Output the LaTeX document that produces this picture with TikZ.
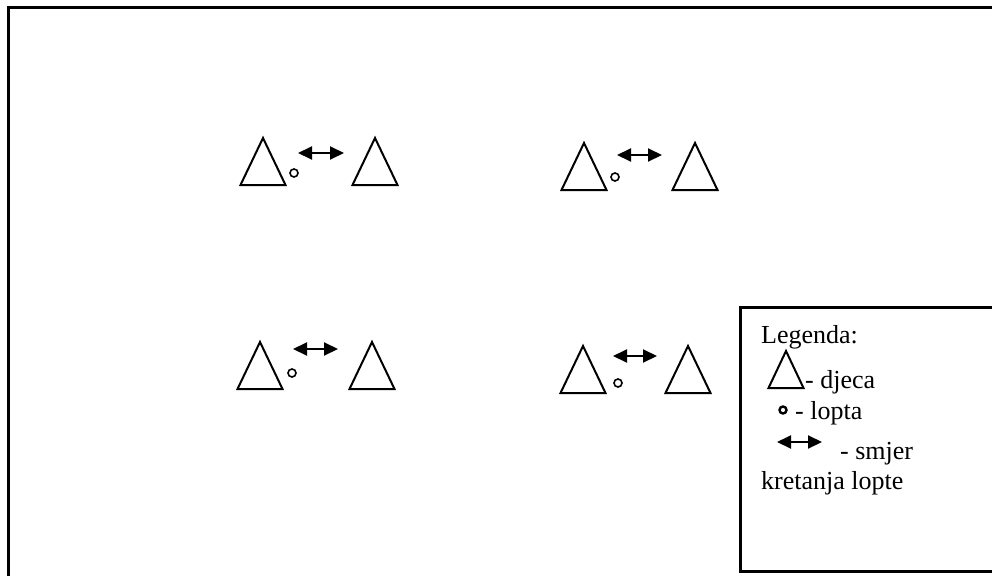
\documentclass[tikz,border=0pt]{standalone}
\usepackage{fontspec}
\setmainfont{Liberation Serif}
\usetikzlibrary{arrows.meta}
\usetikzlibrary{shapes.geometric}

\begin{document}
\begin{tikzpicture}[
		x=1pt, y=-1pt,
		kid/.style={
		% The shape:
		isosceles triangle,
		shape border rotate=90,
		isosceles triangle stretches,
		% The size:
		minimum width=45pt,
		minimum height=47pt,
		inner sep=0pt,
		outer sep=0pt,
		% The border:
		line width=2pt,
		draw=black,
		anchor=apex
		},
		ball/.style={
		circle,
		minimum size=8pt,
		inner sep=0pt,
		line width=1.6pt,
		draw=black
		},
		pass/.style={
		line width=2pt,
		{Triangle[length=14pt,width=13pt]}-{Triangle[length=14pt,width=13pt]}
		},
		legtext/.style={
		anchor=base west,
		inner sep=0pt,
		font=\fontsize{26}{30}\selectfont
		}
	]
	\useasboundingbox (0,0) rectangle (992,575);
	\clip (0,0) rectangle (992,575);

	% playing field (right and bottom edge fall outside the picture)
	\draw [line width=3pt] (8,580) -- (8,8) -- (1000,8);

	% pair 1
	\node (kidA1)[kid] at (263,138) {};
	\node (kidA2)[kid] at (375,138) {};
	\node (ballA)[ball] at (294,173) {};
	\coordinate (passA1) at (298,153);
	\coordinate (passA2) at (344,153);
	\draw [pass] (passA1) -- (passA2);

	% pair 2
	\node (kidB1)[kid] at (584,143) {};
	\node (kidB2)[kid] at (695,143) {};
	\node (ballB)[ball] at (615,177) {};
	\coordinate (passB1) at (617,155);
	\coordinate (passB2) at (662,155);
	\draw [pass] (passB1) -- (passB2);

	% pair 3
	\node (kidC1)[kid] at (260,342) {};
	\node (kidC2)[kid] at (372,342) {};
	\node (ballC)[ball] at (292,373) {};
	\coordinate (passC1) at (293,349);
	\coordinate (passC2) at (338,349);
	\draw [pass] (passC1) -- (passC2);

	% pair 4
	\node (kidD1)[kid] at (583,346) {};
	\node (kidD2)[kid] at (688,346) {};
	\node (ballD)[ball] at (618,383) {};
	\coordinate (passD1) at (613,356);
	\coordinate (passD2) at (657,356);
	\draw [pass] (passD1) -- (passD2);

	% legend
	\draw [line width=3pt] (1000,307) -- (740,307) -- (740,571) -- (1000,571);
	\node (LEG)[legtext] at (761,343) {Legenda:};
	\node (legKid)[kid, minimum width=35pt, minimum height=37pt] at (786,351) {};
	\node (legKidT)[legtext] at (805,388) {- djeca};
	\node (legBall)[ball, minimum size=7pt, line width=2.4pt] at (783,410) {};
	\node (legBallT)[legtext] at (795,419) {- lopta};
	\coordinate (legPass1) at (777,442);
	\coordinate (legPass2) at (822,442);
	\draw [pass] (legPass1) -- (legPass2);
	\node (legPassT)[legtext] at (840,459) {- smjer};
	\node (legPassT2)[legtext] at (761,489) {kretanja lopte};
\end{tikzpicture}
\end{document}
